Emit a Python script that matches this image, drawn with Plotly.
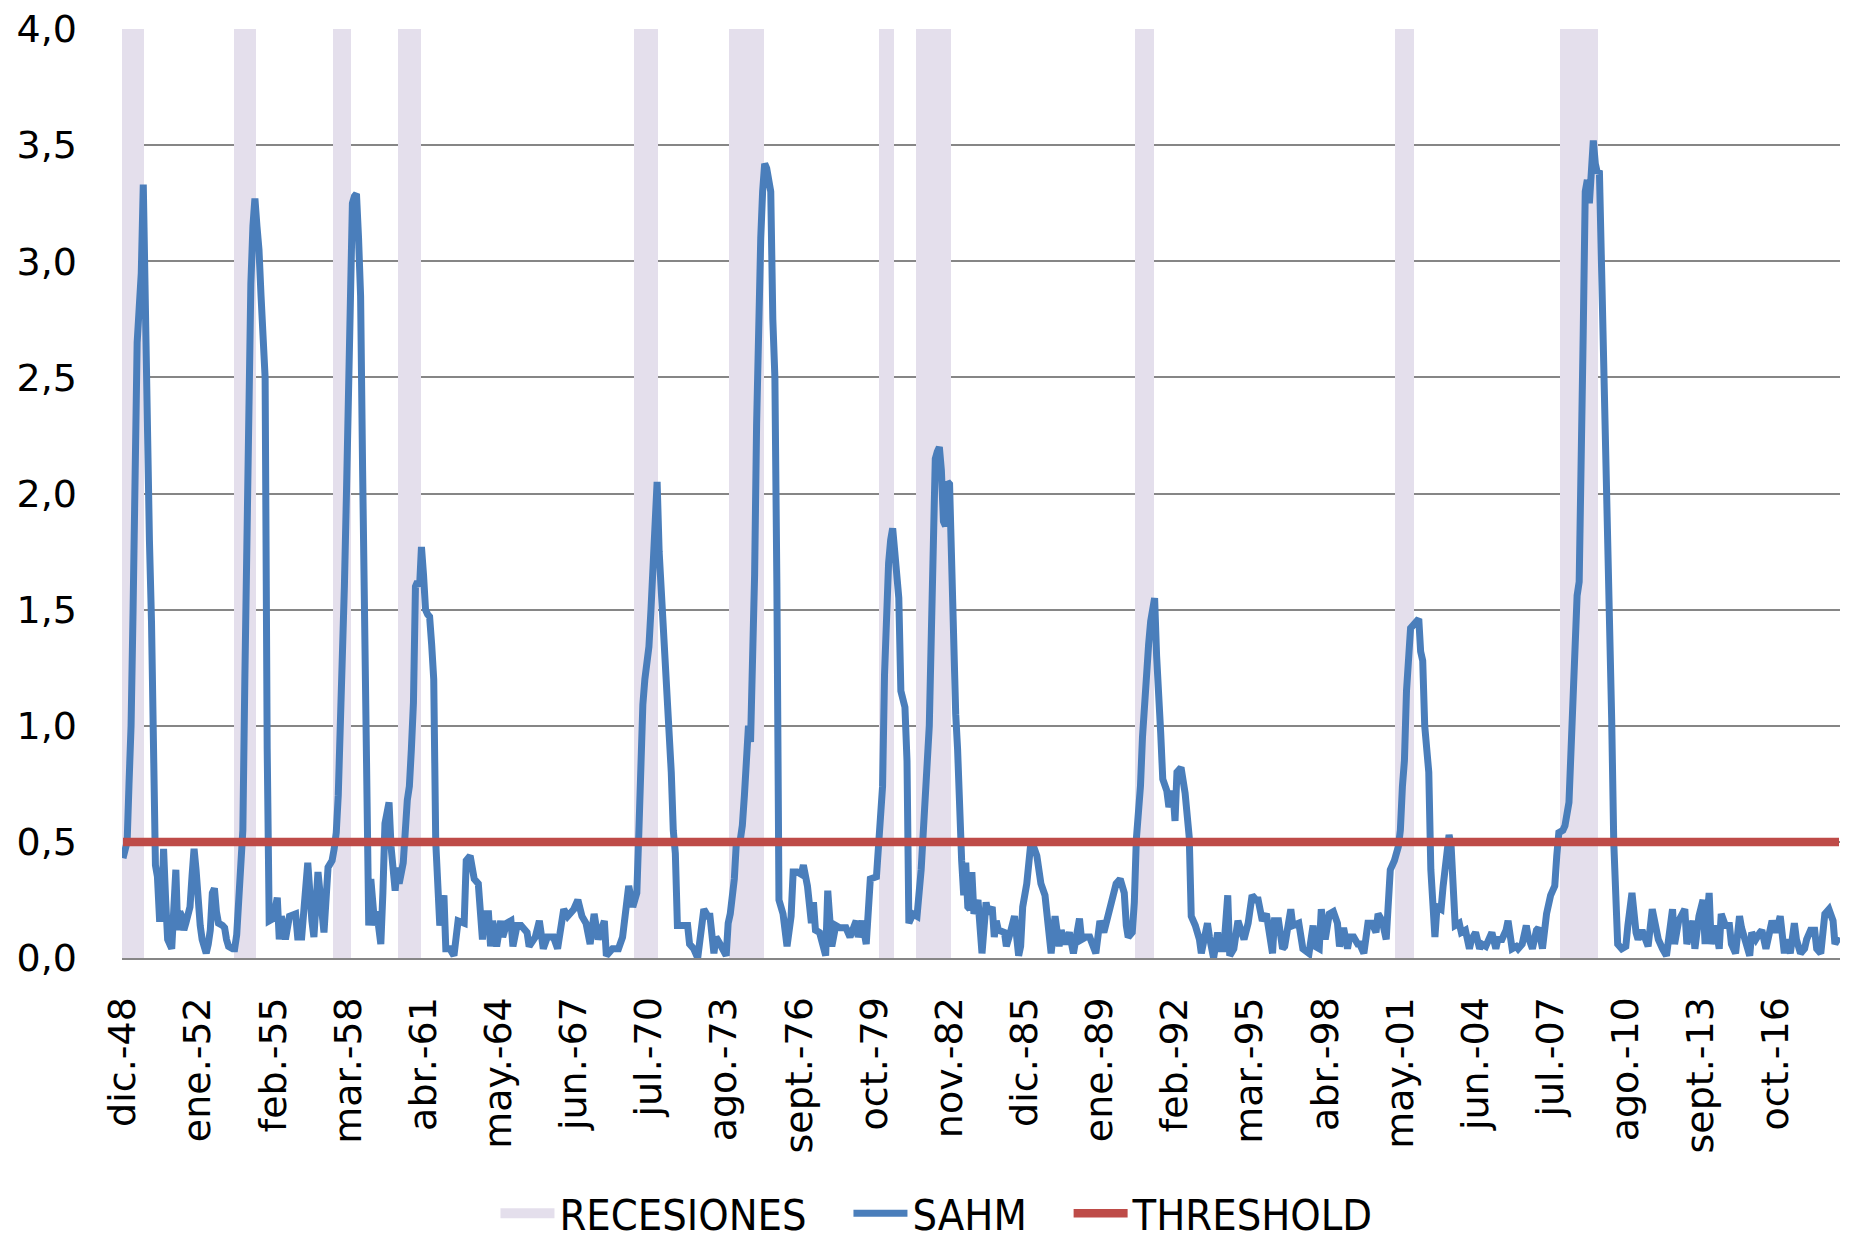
import pandas as pd
import plotly.graph_objects as go

# Serie mensual: meses transcurridos desde dic.-48 y valor del indicador SAHM
start_month = "1948-12-01"
last_month = 845  # may.-19

sahm_month = [
    0, 1, 2, 3, 4, 5, 6, 7, 8, 9, 10, 11, 12, 13, 14, 15, 16, 17, 18, 19,
    20, 21, 22, 24, 25, 26, 27, 28, 29, 30, 31, 33, 34, 35, 36, 37, 38, 39, 41, 42,
    43, 44, 45, 46, 47, 49, 50, 51, 52, 54, 55, 56, 57, 58, 59, 60, 61, 62, 63, 64,
    65, 66, 67, 68, 69, 70, 71, 72, 74, 76, 77, 78, 80, 82, 85, 86, 88, 91, 93, 94,
    96, 99, 101, 103, 104, 105, 106, 107, 108, 109, 110, 111, 112, 113, 114, 115, 116, 117, 118, 119,
    120, 121, 122, 124, 125, 127, 128, 129, 131, 132, 134, 135, 136, 138, 140, 141, 142, 143, 144, 145,
    146, 147, 148, 149, 150, 151, 152, 153, 154, 155, 156, 158, 159, 161, 163, 165, 168, 169, 171, 173,
    175, 177, 178, 180, 181, 182, 184, 186, 187, 189, 191, 192, 194, 196, 199, 200, 203, 205, 207, 209,
    212, 214, 217, 219, 222, 224, 226, 228, 230, 232, 234, 237, 238, 241, 244, 246, 249, 251, 253, 254,
    255, 256, 257, 259, 260, 261, 262, 263, 264, 265, 266, 267, 268, 269, 270, 271, 272, 273, 274, 278,
    279, 281, 283, 286, 288, 289, 291, 292, 294, 297, 298, 299, 301, 302, 304, 305, 306, 307, 308, 309,
    310, 311, 312, 313, 314, 315, 316, 317, 318, 319, 320, 321, 322, 323, 325, 327, 329, 330, 332, 334,
    335, 337, 339, 340, 341, 343, 346, 347, 349, 351, 353, 356, 358, 361, 362, 364, 366, 368, 371, 372,
    374, 375, 376, 377, 378, 379, 380, 381, 382, 383, 384, 385, 386, 387, 389, 391, 393, 394, 395, 396,
    397, 398, 399, 400, 401, 402, 403, 404, 405, 406, 407, 408, 409, 410, 411, 412, 413, 414, 415, 416,
    417, 418, 419, 421, 423, 425, 426, 428, 429, 430, 431, 434, 435, 437, 439, 441, 442, 443, 445, 447,
    448, 450, 452, 454, 456, 457, 459, 461, 462, 464, 466, 468, 471, 472, 474, 476, 479, 481, 483, 485,
    486, 488, 489, 491, 493, 494, 495, 497, 498, 499, 501, 502, 503, 504, 505, 506, 507, 508, 509, 510,
    511, 512, 514, 515, 517, 518, 519, 521, 523, 525, 526, 528, 530, 531, 534, 535, 537, 539, 540, 542,
    544, 545, 547, 549, 552, 554, 556, 558, 559, 561, 563, 566, 567, 569, 571, 572, 575, 576, 579, 581,
    584, 586, 587, 589, 590, 592, 594, 596, 598, 599, 601, 603, 604, 606, 608, 609, 611, 613, 615, 617,
    618, 620, 622, 624, 626, 628, 629, 630, 631, 632, 633, 634, 635, 636, 637, 638, 639, 640, 641, 642,
    643, 644, 645, 646, 647, 649, 650, 652, 653, 654, 655, 656, 658, 659, 661, 663, 664, 666, 668, 669,
    671, 673, 674, 676, 677, 679, 681, 682, 684, 686, 687, 689, 691, 692, 694, 696, 697, 699, 701, 703,
    705, 706, 707, 709, 710, 712, 713, 714, 715, 716, 717, 718, 719, 720, 721, 722, 723, 724, 725, 726,
    727, 728, 729, 730, 731, 732, 733, 734, 735, 736, 738, 740, 741, 743, 745, 746, 748, 750, 751, 753,
    755, 756, 758, 760, 763, 764, 766, 769, 770, 773, 774, 776, 778, 779, 781, 782, 784, 786, 787, 789,
    791, 792, 794, 796, 797, 799, 801, 802, 804, 806, 807, 809, 810, 812, 814, 816, 818, 819, 821, 823,
    824, 826, 828, 829, 831, 833, 834, 836, 838, 840, 842, 843, 845,
]

sahm_value = [
    0.43, 0.46, 0.50, 0.75, 1.00, 1.50, 2.20, 2.65, 2.80, 2.95, 3.33, 2.75, 1.90, 1.80, 1.45, 0.95, 0.40, 0.35, 0.17, 0.17,
    0.47, 0.25, 0.08, 0.04, 0.20, 0.38, 0.12, 0.20, 0.18, 0.12, 0.15, 0.22, 0.35, 0.47, 0.38, 0.20, 0.14, 0.08, 0.02, 0.06,
    0.12, 0.28, 0.30, 0.20, 0.15, 0.14, 0.13, 0.08, 0.05, 0.04, 0.04, 0.10, 0.25, 0.45, 0.55, 1.20, 1.90, 2.50, 2.90, 3.15,
    3.27, 3.15, 3.05, 2.85, 2.60, 2.50, 0.90, 0.16, 0.17, 0.26, 0.08, 0.18, 0.08, 0.18, 0.19, 0.09, 0.09, 0.41, 0.16, 0.09,
    0.37, 0.11, 0.39, 0.42, 0.47, 0.54, 0.70, 0.95, 1.30, 1.60, 2.00, 2.50, 2.95, 3.25, 3.28, 3.29, 3.10, 2.85, 2.10, 1.50,
    0.85, 0.14, 0.34, 0.14, 0.20, 0.06, 0.28, 0.58, 0.67, 0.48, 0.29, 0.39, 0.32, 0.41, 0.68, 0.74, 0.90, 1.10, 1.60, 1.62,
    1.60, 1.77, 1.65, 1.50, 1.48, 1.47, 1.35, 1.20, 0.50, 0.26, 0.14, 0.27, 0.04, 0.04, 0.01, 0.16, 0.15, 0.42, 0.44, 0.34,
    0.32, 0.08, 0.19, 0.19, 0.05, 0.16, 0.05, 0.16, 0.09, 0.15, 0.16, 0.05, 0.14, 0.14, 0.11, 0.05, 0.09, 0.16, 0.04, 0.09,
    0.09, 0.04, 0.21, 0.18, 0.21, 0.25, 0.18, 0.15, 0.06, 0.19, 0.08, 0.16, 0.01, 0.04, 0.04, 0.09, 0.31, 0.22, 0.28, 0.55,
    0.90, 1.09, 1.20, 1.34, 1.50, 1.75, 1.95, 2.05, 1.75, 1.60, 1.34, 1.20, 1.10, 0.95, 0.80, 0.55, 0.45, 0.14, 0.14, 0.14,
    0.06, 0.04, 0.00, 0.21, 0.18, 0.18, 0.02, 0.09, 0.06, 0.01, 0.15, 0.19, 0.34, 0.50, 0.51, 0.57, 0.70, 0.90, 1.00, 0.93,
    1.20, 1.65, 2.30, 2.80, 3.10, 3.30, 3.42, 3.40, 3.35, 3.30, 2.75, 2.50, 1.60, 0.25, 0.19, 0.05, 0.18, 0.37, 0.37, 0.36,
    0.40, 0.31, 0.15, 0.24, 0.12, 0.11, 0.01, 0.29, 0.05, 0.14, 0.13, 0.13, 0.09, 0.16, 0.09, 0.16, 0.06, 0.34, 0.35, 0.51,
    0.74, 1.22, 1.62, 1.70, 1.80, 1.85, 1.75, 1.67, 1.55, 1.15, 1.12, 1.08, 0.85, 0.15, 0.19, 0.18, 0.38, 0.55, 0.75, 0.85,
    1.00, 1.40, 1.80, 2.15, 2.18, 2.20, 2.10, 1.88, 1.86, 2.05, 2.04, 1.60, 1.20, 1.05, 0.90, 0.55, 0.42, 0.27, 0.41, 0.22,
    0.21, 0.37, 0.19, 0.25, 0.02, 0.24, 0.19, 0.22, 0.09, 0.16, 0.12, 0.11, 0.05, 0.11, 0.18, 0.01, 0.05, 0.22, 0.32, 0.49,
    0.49, 0.44, 0.32, 0.27, 0.11, 0.02, 0.18, 0.05, 0.12, 0.06, 0.11, 0.02, 0.17, 0.08, 0.09, 0.09, 0.02, 0.16, 0.11, 0.19,
    0.23, 0.29, 0.32, 0.34, 0.28, 0.14, 0.09, 0.11, 0.24, 0.51, 0.74, 0.95, 1.10, 1.30, 1.35, 1.45, 1.52, 1.55, 1.30, 1.05,
    0.97, 0.77, 0.72, 0.65, 0.72, 0.59, 0.80, 0.82, 0.71, 0.52, 0.18, 0.14, 0.08, 0.02, 0.15, 0.09, 0.00, 0.11, 0.04, 0.04,
    0.27, 0.01, 0.04, 0.16, 0.08, 0.15, 0.27, 0.25, 0.25, 0.16, 0.19, 0.02, 0.16, 0.16, 0.04, 0.05, 0.21, 0.14, 0.15, 0.04,
    0.02, 0.14, 0.05, 0.04, 0.21, 0.08, 0.19, 0.20, 0.15, 0.05, 0.13, 0.04, 0.09, 0.09, 0.06, 0.06, 0.02, 0.15, 0.15, 0.11,
    0.19, 0.16, 0.08, 0.38, 0.42, 0.48, 0.55, 0.74, 0.85, 1.15, 1.36, 1.42, 1.43, 1.44, 1.45, 1.46, 1.32, 1.28, 1.00, 0.84,
    0.80, 0.38, 0.16, 0.09, 0.22, 0.21, 0.31, 0.45, 0.53, 0.48, 0.31, 0.14, 0.15, 0.11, 0.12, 0.04, 0.08, 0.11, 0.04, 0.06,
    0.05, 0.08, 0.11, 0.04, 0.08, 0.08, 0.12, 0.16, 0.04, 0.05, 0.04, 0.06, 0.14, 0.09, 0.04, 0.12, 0.13, 0.04, 0.19, 0.27,
    0.31, 0.44, 0.54, 0.55, 0.57, 0.67, 0.88, 1.15, 1.45, 1.56, 1.62, 2.00, 2.70, 3.30, 3.35, 3.25, 3.45, 3.52, 3.42, 3.38,
    3.39, 3.02, 2.60, 2.10, 1.80, 1.56, 1.03, 0.50, 0.16, 0.06, 0.04, 0.05, 0.14, 0.28, 0.11, 0.08, 0.12, 0.06, 0.05, 0.21,
    0.11, 0.08, 0.04, 0.01, 0.21, 0.06, 0.16, 0.21, 0.06, 0.16, 0.04, 0.18, 0.25, 0.06, 0.28, 0.06, 0.14, 0.04, 0.19, 0.14,
    0.14, 0.06, 0.02, 0.18, 0.13, 0.06, 0.01, 0.11, 0.08, 0.11, 0.12, 0.04, 0.08, 0.16, 0.11, 0.18, 0.02, 0.08, 0.02, 0.15,
    0.08, 0.02, 0.04, 0.08, 0.12, 0.12, 0.04, 0.02, 0.19, 0.21, 0.16, 0.06, 0.09,
]

recession_start = ["1948-12-01", "1953-07-01", "1957-08-01", "1960-04-01", "1969-12-01", "1973-11-01",
                   "1980-01-01", "1981-07-01", "1990-07-01", "2001-03-01", "2007-12-01"]
recession_end = ["1949-10-01", "1954-05-01", "1958-04-01", "1961-02-01", "1970-11-01", "1975-03-01",
                 "1980-07-01", "1982-11-01", "1991-03-01", "2001-11-01", "2009-06-01"]
recession_height = 4.0
threshold = 0.5

tick_dates = ["1948-12-01", "1952-01-01", "1955-02-01", "1958-03-01", "1961-04-01", "1964-05-01",
              "1967-06-01", "1970-07-01", "1973-08-01", "1976-09-01", "1979-10-01", "1982-11-01",
              "1985-12-01", "1989-01-01", "1992-02-01", "1995-03-01", "1998-04-01", "2001-05-01",
              "2004-06-01", "2007-07-01", "2010-08-01", "2013-09-01", "2016-10-01"]
tick_labels = ["dic.-48", "ene.-52", "feb.-55", "mar.-58", "abr.-61", "may.-64", "jun.-67",
               "jul.-70", "ago.-73", "sept.-76", "oct.-79", "nov.-82", "dic.-85", "ene.-89",
               "feb.-92", "mar.-95", "abr.-98", "may.-01", "jun.-04", "jul.-07", "ago.-10",
               "sept.-13", "oct.-16"]

t0 = pd.Timestamp(start_month)
sahm_dates = [t0 + pd.DateOffset(months=m) for m in sahm_month]
t_last = t0 + pd.DateOffset(months=last_month)

rec_months = []
for s, e in zip(recession_start, recession_end):
    rec_months.extend(pd.date_range(s, e, freq="MS"))

month_ms = 31 * 24 * 3600 * 1000
rec_color = "#E4DFEC"

fig = go.Figure()
fig.add_trace(go.Bar(
    x=rec_months, y=[recession_height] * len(rec_months), width=month_ms,
    name="RECESIONES", showlegend=False, marker=dict(color=rec_color, line=dict(width=0)),
))
# entrada de leyenda con la muestra rectangular de las recesiones
fig.add_trace(go.Scatter(
    x=[None], y=[None], mode="lines", name="RECESIONES   ", legendrank=1,
    line=dict(color=rec_color, width=36),
))
fig.add_trace(go.Scatter(
    x=sahm_dates, y=sahm_value, mode="lines", name="SAHM   ", legendrank=2,
    line=dict(color="#4A7EBB", width=7),
))
fig.add_trace(go.Scatter(
    x=[t0, t_last], y=[threshold, threshold], mode="lines", name="THRESHOLD", legendrank=3,
    line=dict(color="#BE4B48", width=8.5),
))

fig.update_layout(
    width=1865, height=1247,
    margin=dict(l=122, r=25, t=29, b=289),
    paper_bgcolor="white", plot_bgcolor="white",
    separators=",.",
    bargap=0,
    showlegend=True,
    legend=dict(
        orientation="h", xref="container", yref="container",
        x=0.5024, y=0.027, xanchor="center", yanchor="middle",
        itemwidth=54,
        font=dict(family="DejaVu Sans Condensed, Liberation Sans Narrow, Liberation Sans",
                  size=43, color="black"),
    ),
    font=dict(family="DejaVu Sans", color="black"),
)
fig.update_xaxes(
    type="date", automargin=False,
    range=[t0 - pd.Timedelta(days=15), t_last + pd.Timedelta(days=15)],
    tickvals=tick_dates, ticktext=tick_labels, tickangle=-90,
    tickfont=dict(family="DejaVu Sans", size=38, color="black"),
    ticklabelstandoff=22,
    showgrid=False, zeroline=False,
    showline=True, linecolor="#868686", linewidth=2, layer="above traces",
)
fig.update_yaxes(
    range=[0, 4], dtick=0.5, tickformat=".1f", automargin=False,
    tickfont=dict(family="DejaVu Sans", size=38, color="black"),
    ticklabelstandoff=44,
    showgrid=True, gridcolor="#868686", gridwidth=1.5,
    zeroline=False, showline=False,
)

# la página no debe desplazar el gráfico
fig.write_html("out.html", config={"displayModeBar": False},
               post_script="document.body.style.margin='0';")
